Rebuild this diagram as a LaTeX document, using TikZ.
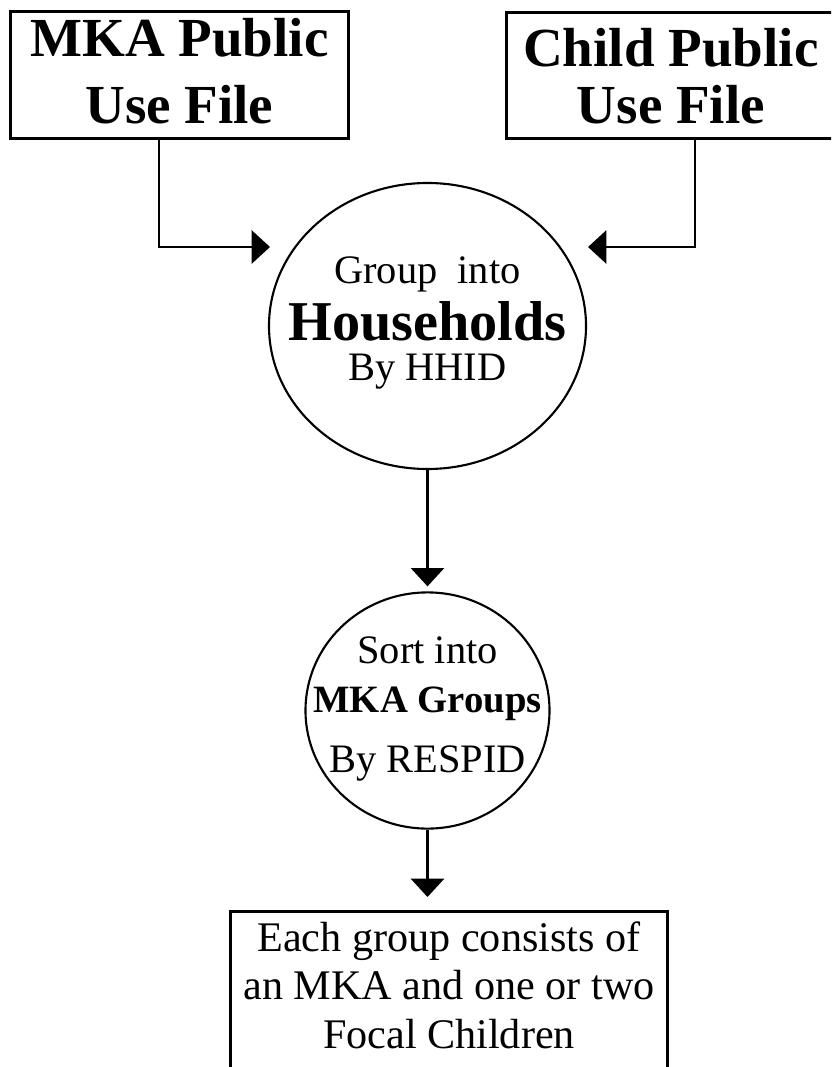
\documentclass[tikz,border=0pt]{standalone}
\usepackage{fontspec}
\setmainfont{Liberation Serif}
\usetikzlibrary{arrows.meta,shapes.geometric}

\newcommand\setfs[1]{\fontsize{#1}{0}\selectfont\lineskiplimit=-1000pt\relax}

\tikzset{%
  filebox/.style={
    rectangle,
    draw,
    line width=2.3pt,
    inner sep=0pt,
    anchor=north west,
    align=center,
    font=\bfseries\setfs{47}
  },
  stage/.style={
    ellipse,
    draw,
    line width=1.8pt,
    inner xsep=-0.9cm,
    inner ysep=0pt,
    align=center,
    font=\setfs{34.5}
  },
  flow/.style={
    line width=2.5pt,
    -{Triangle[length=0.55cm,width=0.99cm]}
  },
}

\begin{document}
\begin{tikzpicture}[x=0.03cm,y=-0.03cm]
\useasboundingbox (0,0) rectangle (831,1067);
\clip (0,0) rectangle (831,1067);
% input files
\node[filebox, minimum width=10.14cm, text height=3.36cm, text depth=0.45cm] (mka) at (9,10) {MKA Public\\[2.01cm]Use File};
\node[filebox, minimum width=9.87cm, text height=3.33cm, text depth=0.45cm] (child) at (505,11) {Child Public\\[1.71cm]Use File};
% grouping steps
\node[stage, minimum width=9.51cm, minimum height=8.58cm, text height=3.9cm, text depth=0.66cm] (hh) at (427.5,326) {Group~ into\\[1.71cm]{\bfseries\setfs{48}Households}\\[1.2cm]By HHID};
\node[stage, minimum width=7.32cm, minimum height=7.05cm, text height=4.35cm, text depth=0.66cm] (sort) at (427.5,710.5) {Sort into\\[1.47cm]{\bfseries\setfs{33}MKA Groups}\\[1.8cm]By RESPID};
% result
\node[filebox, font=\setfs{36}, line width=2.5pt, minimum width=13.11cm, text height=4.11cm, text depth=1.8cm] (focal) at (229,910) {Each group consists of\\[1.44cm]an MKA and one or two\\[1.47cm]Focal Children};

\coordinate (mkaturn) at (159,247);
\coordinate (mkain) at (270,247);
\coordinate (childturn) at (695,247);
\coordinate (childin) at (588,247);
\draw[flow] (mka.south -| mkaturn) -- (mkaturn) -- (mkain);
\draw[flow] (child.south -| childturn) -- (childturn) -- (childin);
\draw[flow, shorten >=0.15cm] (hh) -- (sort);
\draw[flow, shorten >=0.39cm] (sort) -- (sort |- focal.north);
\end{tikzpicture}
\end{document}
